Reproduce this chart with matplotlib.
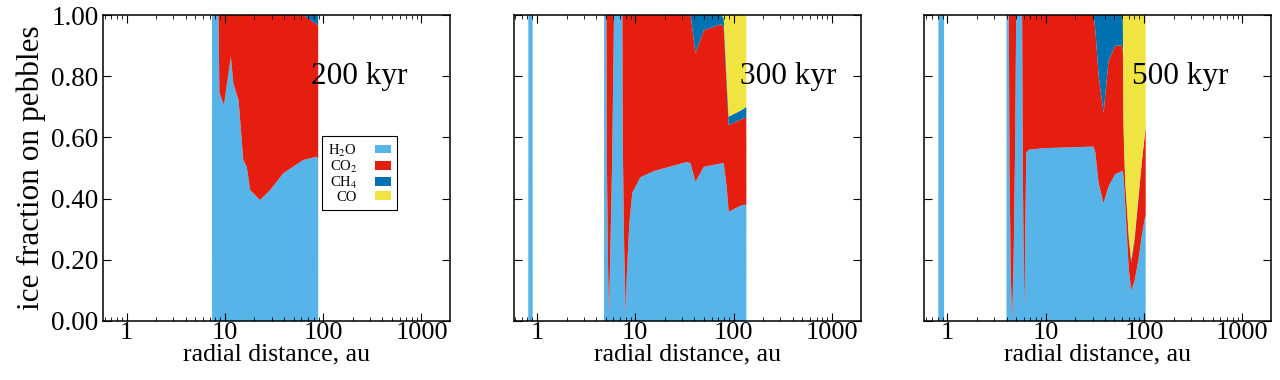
#Ice composition on pebbles at three disc ages

import numpy as np
import matplotlib.pyplot as plt

plt.rcParams['font.family'] = ['Liberation Serif', 'DejaVu Serif']
plt.rcParams['mathtext.fontset'] = 'stix'

species = ['H$_2$O', 'CO$_2$', 'CH$_4$', 'CO']
colors = ['#56b4e9', '#e51e10', '#0072b2', '#f0e442']
ages = ['200 kyr', '300 kyr', '500 kyr']

# 200 kyr
r200 = [7.39, 7.4, 8.6, 8.8, 9.8, 11.5, 12.2, 13.8, 15.4, 16.7, 18.1, 22.8,
        28.9, 39.4, 62.6, 85.6, 89.0, 89.1]
h2o200 = [0, 1.0, 1.0, 0.745, 0.706, 0.864, 0.777, 0.72, 0.526, 0.504, 0.428,
          0.395, 0.428, 0.483, 0.526, 0.537, 0.53, 0]
co2200 = [0, 0, 0, 0.255, 0.294, 0.136, 0.223, 0.28, 0.474, 0.496, 0.572,
          0.605, 0.572, 0.517, 0.474, 0.433, 0.435, 0]
ch4200 = [0, 0, 0, 0, 0, 0, 0, 0, 0, 0, 0, 0, 0, 0, 0, 0.03, 0.035, 0]
co200 = [0] * len(r200)

# 300 kyr
r300 = [0.816, 0.817, 0.904, 0.905, 4.81, 4.82, 5.09, 5.15, 5.3, 5.41, 5.55,
        5.8, 6.0, 6.08, 7.39, 7.45, 7.7, 7.99, 8.2, 8.7, 9.34, 11.3, 15.5,
        33.7, 36.5, 41.0, 49.8, 75.0, 79.4, 85.0, 89.2, 121.6, 134.8, 135.0]
h2o300 = [0, 1.0, 1.0, 0, 0, 1.0, 1.0, 0.5, 0.15, 0.02, 0.2,
          0.5, 0.85, 1.0, 1.0, 0.6, 0.25, 0.02, 0.15, 0.32, 0.42, 0.47, 0.49,
          0.52, 0.515, 0.455, 0.504, 0.515, 0.516, 0.44, 0.357, 0.379, 0.38, 0]
co2300 = [0, 0, 0, 0, 0, 0, 0, 0.5, 0.85, 0.98, 0.8,
          0.5, 0.15, 0, 0, 0.4, 0.75, 0.98, 0.85, 0.68, 0.58, 0.53, 0.51,
          0.48, 0.485, 0.42, 0.446, 0.455, 0.444, 0.33, 0.283, 0.281, 0.285, 0]
ch4300 = [0, 0, 0, 0, 0, 0, 0, 0, 0, 0, 0,
          0, 0, 0, 0, 0, 0, 0, 0, 0, 0, 0, 0,
          0, 0, 0.125, 0.05, 0.03, 0.03, 0.03, 0.028, 0.03, 0.035, 0]
co300 = [0, 0, 0, 0, 0, 0, 0, 0, 0, 0, 0,
         0, 0, 0, 0, 0, 0, 0, 0, 0, 0, 0, 0,
         0, 0, 0, 0, 0, 0.01, 0.2, 0.332, 0.31, 0.3, 0]

# 500 kyr
r500 = [0.809, 0.81, 0.925, 0.926, 3.99, 4.0, 4.22, 4.28, 4.42, 4.56, 4.72,
        4.9, 5.01, 5.76, 5.85, 6.0, 6.08, 6.2, 6.35, 6.74, 9.93, 30.7, 32.0,
        34.6, 38.8, 43.6, 51.0, 59.6, 61.0, 62.0, 64.4, 66.0, 70.0, 74.1,
        80.0, 87.9, 95.0, 104.0, 104.1]
h2o500 = [0, 1.0, 1.0, 0, 0, 1.0, 1.0, 0.5, 0.15, 0.0, 0.2,
          0.6, 1.0, 1.0, 0.5, 0.15, 0.036, 0.3, 0.55, 0.56, 0.565, 0.57, 0.55,
          0.45, 0.385, 0.44, 0.48, 0.49, 0.49, 0.47, 0.38, 0.32, 0.17, 0.10,
          0.13, 0.20, 0.28, 0.35, 0]
co2500 = [0, 0, 0, 0, 0, 0, 0, 0.5, 0.85, 1.0, 0.8,
          0.4, 0, 0, 0.5, 0.85, 0.964, 0.7, 0.45, 0.44, 0.435, 0.43, 0.40,
          0.35, 0.295, 0.41, 0.42, 0.41, 0.39, 0.15, 0.07, 0.08, 0.10, 0.09,
          0.13, 0.20, 0.24, 0.285, 0]
ch4500 = [0, 0, 0, 0, 0, 0, 0, 0, 0, 0, 0,
          0, 0, 0, 0, 0, 0, 0, 0, 0, 0, 0, 0.05,
          0.20, 0.32, 0.15, 0.10, 0.10, 0.10, 0.02, 0.01, 0.01, 0.01, 0.01,
          0.01, 0.01, 0, 0, 0]
co500 = [0, 0, 0, 0, 0, 0, 0, 0, 0, 0, 0,
         0, 0, 0, 0, 0, 0, 0, 0, 0, 0, 0, 0,
         0, 0, 0, 0, 0, 0.02, 0.36, 0.54, 0.59, 0.72, 0.80,
         0.73, 0.59, 0.48, 0.365, 0]

yTicks = [0.0, 0.2, 0.4, 0.6, 0.8, 1.0]
xTicks = [1, 10, 100, 1000]


def main():
    panels = [
        (r200, h2o200, co2200, ch4200, co200),
        (r300, h2o300, co2300, ch4300, co300),
        (r500, h2o500, co2500, ch4500, co500),
    ]

    fig, axes = plt.subplots(1, 3, figsize=(12.8, 3.8), dpi=100, sharey=True)
    fig.subplots_adjust(left=0.0807, right=0.993, top=0.9605, bottom=0.1553,
                        wspace=0.183)

    for i, ax in enumerate(axes):
        r, h2o, co2, ch4, co = panels[i]
        ax.stackplot(r, h2o, co2, ch4, co, colors=colors, labels=species,
                     linewidth=0)

        ax.set_xscale('log')
        ax.set_xlim(0.58, 1960)
        ax.set_ylim(0, 1)
        ax.set_xticks(xTicks)
        ax.set_xticklabels([str(t) for t in xTicks])
        ax.set_yticks(yTicks)
        ax.set_yticklabels([f'{t:.2f}' for t in yTicks])
        ax.tick_params(which='both', direction='in', top=True, right=True,
                       labelsize=19.5)
        ax.tick_params(axis='x', labelsize=19)
        ax.tick_params(which='major', length=6, width=0.8)
        ax.tick_params(which='minor', length=3, width=0.6)
        ax.tick_params(axis='x', which='major', pad=0.5)
        ax.tick_params(axis='y', which='minor', left=False, right=False)
        for s in ax.spines.values():
            s.set_linewidth(1.1)

        ax.set_xlabel('radial distance, au', fontsize=18.5, labelpad=0)
        ax.text(0.6 if i != 1 else 0.652, 0.80, ages[i], transform=ax.transAxes,
                fontsize=22.5, va='center', ha='left')

    axes[0].set_ylabel('ice fraction on pebbles', fontsize=22.5, labelpad=4)

    leg = axes[0].legend(loc='upper left', bbox_to_anchor=(0.63, 0.605),
                         fontsize=10.5, markerfirst=False, fancybox=False,
                         framealpha=1, edgecolor='black', labelspacing=0.0,
                         handlelength=1.1, handleheight=0.5, handletextpad=1.2,
                         borderpad=0.45, borderaxespad=0)
    leg.get_frame().set_linewidth(0.8)
    for t in leg.get_texts():
        t.set_ha('right')

    fig.savefig('out.png', dpi=100)


if __name__ == '__main__':
    main()
